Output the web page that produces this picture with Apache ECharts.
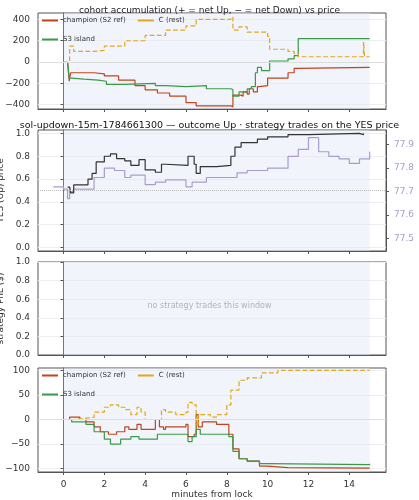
<!DOCTYPE html>
<html>
<head>
<meta charset="utf-8">
<script src="https://cdn.jsdelivr.net/npm/echarts@6/dist/echarts.min.js"></script>
<style>html,body{margin:0;padding:0;background:#fff}#main{width:419px;height:500px}</style>
</head>
<body>
<div id="main"></div>
<script>
// panel 1: accumulated net YES shares
var accChampT = [0.2,0.28,0.35,1.5,2,2.7,3.5,4,4.6,5.2,6,6.5,8.2,8.3,8.7,8.8,9.0,9.1,9.3,9.5,9.6,10,11,11.3,11.5,15];
var accChampV = [0,-180,-100,-110,-130,-170,-220,-260,-290,-320,-380,-410,-420,-310,-320,-280,-300,-250,-280,-230,-220,-150,-100,-60,-50,-50];
var accS3T = [0.2,0.28,0.4,1,1.7,2.1,3,4.5,5,6,7,8.2,8.3,8.6,9,9.2,9.4,9.5,9.7,10.1,11,11.3,11.5,15];
var accS3V = [0,-150,-160,-170,-180,-210,-200,-220,-230,-220,-250,-260,-320,-280,-250,-230,-100,-50,-80,10,30,60,220,220];
var accCT = [0,0.2,0.3,0.5,1.5,2,3,4,5,6,6.5,8.2,8.3,8.6,9,10,10.1,11,11.3,11.5,14.6,14.7,14.75,15];
var accCV = [0,0,150,100,110,150,200,250,300,340,400,420,300,330,280,240,120,100,80,50,50,190,50,50];
// panel 2: YES price and SOL/USD
var yesT = [0.2,0.3,0.35,0.5,1.2,1.4,1.6,2,2.3,2.6,3,3.3,3.7,4,4.5,4.8,5,6.1,6.4,6.5,6.7,7.5,8.2,8.4,8.7,9.5,10,11,12,14.5,14.7];
var yesV = [0.53,0.53,0.48,0.55,0.6,0.65,0.75,0.8,0.82,0.78,0.76,0.72,0.77,0.68,0.66,0.73,0.72,0.8,0.73,0.65,0.71,0.72,0.8,0.88,0.92,0.95,0.97,0.99,1.0,0.99,1.0];
var solT = [-0.5,0,0.2,0.3,0.5,1,1.5,2,2.5,3,3.3,4,4.5,5,6,6.3,7,8,8.5,9,10,11,11.5,12,12.5,13,13.5,14,14.5,15];
var solV = [77.72,77.71,77.67,77.7,77.71,77.71,77.76,77.8,77.79,77.76,77.77,77.73,77.74,77.75,77.72,77.74,77.76,77.76,77.78,77.79,77.8,77.85,77.88,77.93,77.87,77.85,77.84,77.82,77.84,77.87];
// panel 4: cohort moving PnL
var pnlChampT = [0.2,0.3,0.8,1.1,1.5,1.8,2.2,2.6,3,3.2,3.6,3.8,4.4,4.5,4.7,4.9,5,6,6.1,6.4,6.5,6.6,6.8,7.5,8.1,8.3,8.6,9,9.6,10,11,15];
var pnlChampV = [0,5,0,-5,-15,-25,-30,-25,-15,-20,-10,-20,-20,0,-15,-20,-15,-10,-35,-30,10,-15,-5,-10,-30,-60,-80,-85,-95,-98,-99,-98];
var pnlS3T = [0.2,0.4,1.1,1.5,2,2.3,2.8,3.3,3.7,4.5,4.6,5,6,6.1,6.3,6.5,6.7,7.5,8.1,8.3,8.6,9,9.6,10,15];
var pnlS3V = [0,-5,-10,-25,-40,-50,-40,-35,-40,-40,-30,-30,-30,-45,-35,-20,-30,-30,-35,-65,-80,-85,-90,-92,-90];
var pnlCT = [0,0.5,1,1.5,2,2.3,2.7,3,3.3,3.6,3.8,4,4.5,4.8,5,5.5,6,6.1,6.3,6.5,6.6,7,7.2,7.5,8,8.2,8.6,9,9.7,10.5,15];
var pnlCV = [0,2,5,15,25,30,25,20,10,25,15,0,0,20,15,10,15,35,30,-10,10,10,5,10,30,60,80,85,95,100,100];
var xTicks = [0,2,4,6,8,10,12,14];

function zip(t, v) { return t.map(function (x, i) { return [x, v[i]]; }); }

var RED = '#c0441c', GREEN = '#3a9a48', GOLD = '#e0a820', PURPLE = '#a99ccc';
var tickFont = { fontFamily: 'DejaVu Sans', fontSize: 9, color: '#333' };
var grids = [
  { left: 38, right: 33, top: 13, height: 96 },
  { left: 38, right: 33, top: 130, height: 121 },
  { left: 38, right: 33, top: 262, height: 93 },
  { left: 38, right: 33, top: 368, height: 104 }
];
var xAxes = grids.map(function (g, i) {
  return {
    type: 'value', gridIndex: i, min: -1.25, max: 15.8,
    axisLine: { onZero: false, lineStyle: { color: '#555' } },
    axisTick: { customValues: xTicks, length: 3, lineStyle: { color: '#555' } },
    axisLabel: Object.assign({ show: i === 3, customValues: xTicks }, tickFont),
    splitLine: { show: false },
    name: i === 3 ? 'minutes from lock' : '', nameLocation: 'middle', nameGap: 18,
    nameTextStyle: { fontFamily: 'DejaVu Sans', fontSize: 9, color: '#333' }
  };
});
function yAx(i, min, max, interval, name) {
  return {
    type: 'value', gridIndex: i, min: min, max: max, interval: interval,
    name: name, nameLocation: 'middle', nameGap: 26,
    nameTextStyle: { fontFamily: 'DejaVu Sans', fontSize: 9, color: '#333' },
    axisLine: { show: true, lineStyle: { color: '#555' } },
    axisTick: { show: true, length: 3 },
    axisLabel: Object.assign({ showMinLabel: true, showMaxLabel: true }, tickFont),
    splitLine: { show: true, lineStyle: { color: '#eee' } }
  };
}
var minus = function (v) { return String(v).replace('-', '\u2212'); };
var yAxes = [
  Object.assign(yAx(0, -440, 460, 200, 'acc. net YES (shares)'), { axisLabel: Object.assign({ customValues: [-400,-200,0,200,400], formatter: minus }, tickFont), axisTick: { customValues: [-400,-200,0,200,400], length: 3 } }),
  Object.assign(yAx(1, -0.03, 1.03, 0.2, 'YES (Up) price'), { axisLabel: Object.assign({ customValues: [0,0.2,0.4,0.6,0.8,1], formatter: function (v) { return v.toFixed(1); } }, tickFont), axisTick: { customValues: [0,0.2,0.4,0.6,0.8,1], length: 3 } }),
  {
    type: 'value', gridIndex: 1, position: 'right', min: 77.446, max: 77.963,
    name: 'SOL/USD (strike dotted = YES 0.5)', nameLocation: 'middle', nameGap: 24,
    nameTextStyle: { fontFamily: 'DejaVu Sans', fontSize: 8, color: PURPLE },
    axisLine: { show: true, lineStyle: { color: '#555' } },
    axisTick: { show: true, length: 3, customValues: [77.5,77.6,77.7,77.8,77.9] },
    axisLabel: { customValues: [77.5,77.6,77.7,77.8,77.9], formatter: function (v) { return v.toFixed(1); }, fontFamily: 'DejaVu Sans', fontSize: 9, color: PURPLE },
    splitLine: { show: false }
  },
  Object.assign(yAx(2, 0, 1, 0.2, 'strategy PnL ($)'), { axisLabel: Object.assign({ formatter: function (v) { return v.toFixed(1); } }, tickFont) }),
  Object.assign(yAx(3, -107, 105, 50, 'cohort moving PnL ($)'), { axisLabel: Object.assign({ customValues: [-100,-50,0,50,100], formatter: minus }, tickFont), axisTick: { customValues: [-100,-50,0,50,100], length: 3 } })
];
var shade = { silent: true, itemStyle: { color: 'rgba(225,230,245,0.45)' }, data: [[{ xAxis: 0 }, { xAxis: 15 }]] };
function ln(name, xi, yi, data, color, dashed, extra) {
  return Object.assign({
    name: name, type: 'line', step: 'end', xAxisIndex: xi, yAxisIndex: yi, data: data,
    showSymbol: false, symbol: 'none', animation: false,
    lineStyle: { color: color, width: 1.2, type: dashed ? 'dashed' : 'solid' },
    itemStyle: { color: color }
  }, extra || {});
}
var zeroLine = function (y, dotted) {
  return { silent: true, symbol: 'none', label: { show: false },
    lineStyle: { color: dotted ? '#bbb' : '#ddd', type: dotted ? 'dotted' : 'solid', width: 1 }, data: [{ yAxis: y }] };
};

var myChart = echarts.init(document.getElementById('main'));
var legendBase = { data: ['champion (S2 ref)', 'C (rest)', 'S3 island'], left: 40, width: 160, itemWidth: 16, itemHeight: 2, itemGap: 12,
  icon: 'rect', textStyle: { fontSize: 7, fontFamily: 'DejaVu Sans', color: '#333' }, padding: 2 };
var option = {
  animation: false,
  title: [
    { text: 'cohort accumulation (+ = net Up, \u2212 = net Down) vs price', left: 'center', top: 1, textStyle: { fontFamily: 'DejaVu Sans', fontSize: 9, fontWeight: 'normal', color: '#222' } },
    { text: 'sol-updown-15m-1784661300 \u2014 outcome Up \u00b7 strategy trades on the YES price', left: 'center', top: 116, textStyle: { fontFamily: 'DejaVu Sans', fontSize: 9.5, fontWeight: 'normal', color: '#111' } }
  ],
  legend: [Object.assign({ top: 15 }, legendBase), Object.assign({ top: 370 }, legendBase)],
  grid: grids.map(function (g) { return Object.assign({ show: true, borderColor: '#555', borderWidth: 1, backgroundColor: '#fff', containLabel: false, outerBoundsMode: 'none' }, g); }),
  xAxis: xAxes,
  yAxis: yAxes,
  graphic: [{ type: 'text', left: 'center', top: 302, style: { text: 'no strategy trades this window', fill: '#888', font: '8px DejaVu Sans' } }],
  series: [
    ln('champion (S2 ref)', 0, 0, zip(accChampT, accChampV), RED, false, { markArea: shade, markLine: zeroLine(0) }),
    ln('S3 island', 0, 0, zip(accS3T, accS3V), GREEN, false),
    ln('C (rest)', 0, 0, zip(accCT, accCV), GOLD, true),
    ln('SOL', 1, 2, zip(solT, solV), PURPLE, false, { markArea: shade }),
    ln('YES', 1, 1, zip(yesT, yesV), '#333', false, { markLine: zeroLine(0.5, true) }),
    { type: 'line', xAxisIndex: 2, yAxisIndex: 3, data: [], markArea: shade },
    ln('champion (S2 ref)', 3, 4, zip(pnlChampT, pnlChampV), RED, false, { markArea: shade, markLine: zeroLine(0) }),
    ln('S3 island', 3, 4, zip(pnlS3T, pnlS3V), GREEN, false),
    ln('C (rest)', 3, 4, zip(pnlCT, pnlCV), GOLD, true)
  ]
};
myChart.setOption(option);
</script>
</body>
</html>
